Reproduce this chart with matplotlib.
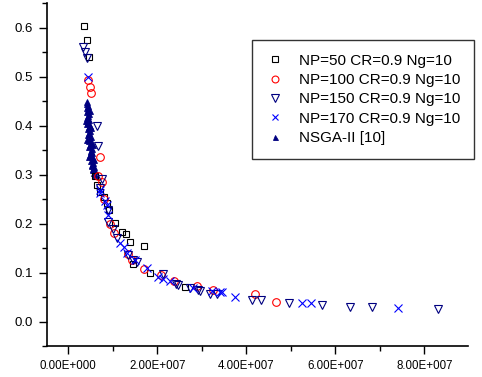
import matplotlib
matplotlib.use("Agg")
import matplotlib.pyplot as plt
from matplotlib.ticker import FixedLocator, MultipleLocator

plt.rcParams['font.family'] = ['Liberation Sans', 'DejaVu Sans']

# ---- data (x in units of 1e7) ----
np50_x = [0.36, 0.43, 0.465, 0.60, 0.64, 0.72, 0.81, 0.86, 0.91, 1.05, 1.20, 1.30, 1.39, 1.46, 1.69, 1.84, 2.61]
np50_y = [0.603, 0.575, 0.539, 0.296, 0.279, 0.265, 0.255, 0.241, 0.228, 0.202, 0.182, 0.178, 0.162, 0.118, 0.154, 0.098, 0.070]

np100_x = [0.45, 0.49, 0.51, 0.70, 0.67, 0.75, 0.79, 0.94, 1.02, 1.33, 1.42, 1.69, 2.08, 2.37, 2.88, 3.26, 4.20, 4.66]
np100_y = [0.493, 0.479, 0.467, 0.335, 0.296, 0.285, 0.250, 0.200, 0.180, 0.138, 0.126, 0.108, 0.095, 0.083, 0.072, 0.064, 0.0555, 0.039]

np150_x = [0.34, 0.38, 0.43, 0.64, 0.67, 0.75, 0.70, 0.90, 0.90, 1.01, 1.09, 1.33, 1.46, 1.54, 2.13, 2.41, 2.47, 2.73,
           2.92, 2.96, 3.18, 3.33, 4.13, 4.33, 4.96, 5.71, 6.33, 6.83, 8.31]
np150_y = [0.561, 0.551, 0.538, 0.398, 0.358, 0.291, 0.272, 0.228, 0.204, 0.188, 0.171, 0.136, 0.126, 0.122, 0.096, 0.077, 0.074, 0.068,
           0.064, 0.062, 0.0555, 0.0555, 0.044, 0.044, 0.037, 0.034, 0.030, 0.030, 0.0255]

np170_x = [0.435, 0.70, 0.72, 0.82, 0.86, 0.90, 1.16, 1.24, 1.31, 1.50, 1.76, 2.02, 2.13, 2.29, 2.81, 3.22, 3.41, 3.45, 3.75, 5.24, 5.45, 7.40]
np170_y = [0.500, 0.268, 0.262, 0.245, 0.238, 0.217, 0.160, 0.153, 0.140, 0.125, 0.109, 0.091, 0.087, 0.083, 0.068, 0.062, 0.060, 0.061, 0.049, 0.038, 0.038, 0.027]

nsga_x = [0.42, 0.41, 0.44, 0.42, 0.45, 0.43, 0.46, 0.44, 0.42, 0.47, 0.45, 0.43, 0.48, 0.46, 0.44, 0.49, 0.47, 0.45, 0.50,
          0.48, 0.46, 0.51, 0.49, 0.47, 0.52, 0.50, 0.54, 0.49, 0.52, 0.55, 0.51, 0.56, 0.53, 0.57, 0.55, 0.59, 0.57, 0.60,
          0.48, 0.51, 0.55, 0.58, 0.40, 0.43, 0.47, 0.53, 0.56, 0.50]
nsga_y = [0.448, 0.444, 0.440, 0.436, 0.432, 0.428, 0.424, 0.420, 0.416, 0.412, 0.408, 0.404, 0.400, 0.396, 0.392, 0.388, 0.384, 0.380, 0.376,
          0.372, 0.368, 0.364, 0.360, 0.356, 0.352, 0.348, 0.344, 0.340, 0.336, 0.332, 0.328, 0.324, 0.320, 0.316, 0.312, 0.308, 0.304, 0.300,
          0.430, 0.395, 0.360, 0.330, 0.410, 0.370, 0.335, 0.318, 0.310, 0.345]

labels = ["NP=50 CR=0.9 Ng=10", "NP=100 CR=0.9 Ng=10", "NP=150 CR=0.9 Ng=10", "NP=170 CR=0.9 Ng=10", "NSGA-II [10]"]
xtick_vals = [0, 2, 4, 6, 8]
xtick_labels = ["0.00E+000", "2.00E+007", "4.00E+007", "6.00E+007", "8.00E+007"]
ytick_vals = [0.0, 0.1, 0.2, 0.3, 0.4, 0.5, 0.6]

W, H = 482, 377
fig = plt.figure(figsize=(W / 100, H / 100), dpi=100)
ax = fig.add_axes([47 / W, 1 - 346 / H, (468 - 47) / W, (346 - 3) / H])

navy = '#000080'
ax.plot(nsga_x, nsga_y, linestyle='none', marker='^', ms=4, mfc=navy, mec=navy, mew=0.6, label=labels[4], zorder=2)
ax.plot(np50_x, np50_y, linestyle='none', marker='s', ms=5, mfc='none', mec='black', mew=0.8, label=labels[0], zorder=3)
ax.plot(np100_x, np100_y, linestyle='none', marker='o', ms=5.5, mfc='none', mec='#ff0000', mew=0.8, label=labels[1], zorder=3)
ax.plot(np150_x, np150_y, linestyle='none', marker='v', ms=6, mfc='none', mec=navy, mew=0.8, label=labels[2], zorder=3)
ax.plot(np170_x, np170_y, linestyle='none', marker='x', ms=5.5, mec='#0000ff', mew=0.8, label=labels[3], zorder=3)

ax.set_xlim(-0.48, 8.98)
ax.set_ylim(-0.05, 0.65)

ax.xaxis.set_major_locator(FixedLocator(xtick_vals))
ax.set_xticklabels(xtick_labels)
ax.xaxis.set_minor_locator(MultipleLocator(1))
ax.yaxis.set_major_locator(FixedLocator(ytick_vals))
ax.set_yticklabels([f"{v:.1f}" for v in ytick_vals])
ax.yaxis.set_minor_locator(MultipleLocator(0.05))

for s in ['top', 'right']:
    ax.spines[s].set_visible(False)
for s in ['left', 'bottom']:
    ax.spines[s].set_linewidth(1.2)
ax.tick_params(which='major', direction='out', length=6, width=1.0, pad=4)
ax.tick_params(axis='x', which='major', labelsize=8.3)
ax.tick_params(axis='y', which='major', labelsize=9.5)
ax.tick_params(which='minor', direction='out', length=3.5, width=1.0)

handles, lbls = ax.get_legend_handles_labels()
order = [1, 2, 3, 4, 0]
leg = ax.legend([handles[i] for i in order], [lbls[i] for i in order],
                loc='upper left', bbox_to_anchor=(252 / W, 1 - 40 / H), bbox_transform=fig.transFigure,
                borderaxespad=0, frameon=True, fancybox=False, edgecolor='black', fontsize=11,
                handlelength=1.2, handletextpad=1.0, labelspacing=0.35, borderpad=0.9, markerscale=0.9)
leg.get_frame().set_linewidth(1.0)

fig.savefig('out.png', dpi=100)
